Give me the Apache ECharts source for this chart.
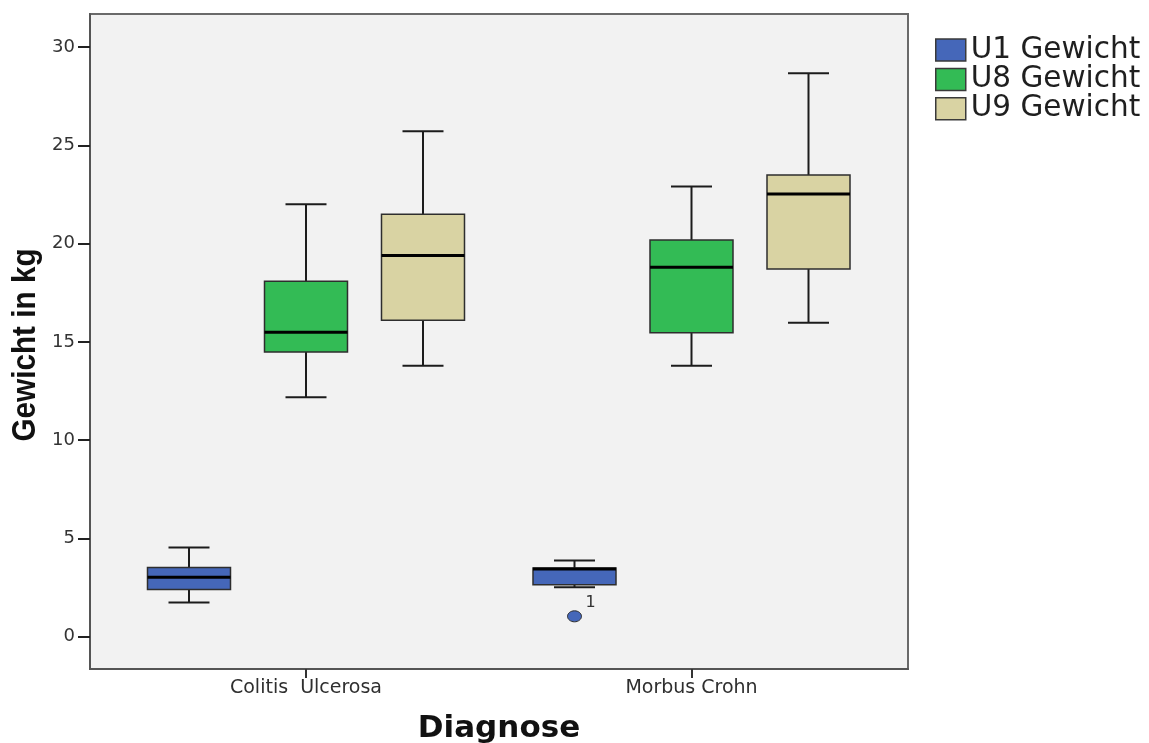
<!DOCTYPE html>
<html>
<head>
<meta charset="utf-8">
<script src="https://cdn.jsdelivr.net/npm/echarts@6/dist/echarts.min.js"></script>
<style>
  html, body { margin: 0; padding: 0; background: #ffffff; }
  #chart { width: 1149px; height: 743px; }
</style>
</head>
<body>
<div id="chart"></div>
<script>
// Diagnosis groups on the x axis
const categories = ['Colitis  Ulcerosa', 'Morbus Crohn'];
const seriesNames = ['U1 Gewicht', 'U8 Gewicht', 'U9 Gewicht'];
const seriesColors = ['#4567b9', '#33bb55', '#d9d3a3'];

// Five-number summaries per diagnosis: [min, Q1, median, Q3, max] (kg)
const u1Gewicht = [[1.74, 2.40, 3.03, 3.52, 4.54], [2.52, 2.64, 3.45, 3.50, 3.88]];
const u8Gewicht = [[12.19, 14.49, 15.49, 18.08, 22.00], [13.79, 15.47, 18.80, 20.18, 22.90]];
const u9Gewicht = [[13.79, 16.10, 19.39, 21.49, 25.72], [15.98, 18.71, 22.52, 23.49, 28.67]];

// Outlier of U1 Gewicht in Morbus Crohn: category index, value, case number
const outlierCategory = [1];
const outlierValue = [1.04];
const outlierCase = ['1'];

const yTicks = [0, 5, 10, 15, 20, 25, 30];
const yTitle = 'Gewicht in kg';
const xTitle = 'Diagnose';

// Box geometry (pixels)
const GROUP_STEP = 117;   // distance between neighbouring boxes in a group
const BOX_HALF = 41.5;    // half box width
const CAP_HALF = 20.5;    // half whisker-cap width

const summaries = [u1Gewicht, u8Gewicht, u9Gewicht];

function boxRenderer(seriesIdx) {
  const offset = (seriesIdx - 1) * GROUP_STEP;
  const fill = seriesColors[seriesIdx];
  return function (params, api) {
    const cx = api.coord([api.value(0), 0])[0] + offset;
    const py = (d) => api.coord([0, api.value(d)])[1];
    const yMin = py(1), yQ1 = py(2), yMed = py(3), yQ3 = py(4), yMax = py(5);
    const whisker = { stroke: '#1c1c1c', lineWidth: 2 };
    return {
      type: 'group',
      children: [
        { type: 'line', shape: { x1: cx, y1: yMax, x2: cx, y2: yQ3 }, style: whisker },
        { type: 'line', shape: { x1: cx, y1: yQ1, x2: cx, y2: yMin }, style: whisker },
        { type: 'line', shape: { x1: cx - CAP_HALF, y1: yMax, x2: cx + CAP_HALF, y2: yMax }, style: whisker },
        { type: 'line', shape: { x1: cx - CAP_HALF, y1: yMin, x2: cx + CAP_HALF, y2: yMin }, style: whisker },
        { type: 'rect', shape: { x: cx - BOX_HALF, y: yQ3, width: BOX_HALF * 2, height: yQ1 - yQ3 },
          style: { fill: fill, stroke: '#2e2e2e', lineWidth: 1.5 } },
        { type: 'line', shape: { x1: cx - BOX_HALF, y1: yMed, x2: cx + BOX_HALF, y2: yMed },
          style: { stroke: '#000000', lineWidth: 3 } }
      ]
    };
  };
}

const boxSeries = summaries.map((rows, i) => ({
  name: seriesNames[i],
  type: 'custom',
  renderItem: boxRenderer(i),
  itemStyle: { color: seriesColors[i] },
  encode: { x: 0, y: [1, 2, 3, 4, 5] },
  data: rows.map((r, c) => [c].concat(r)),
  silent: true,
  z: 3
}));

const outlierSeries = {
  type: 'custom',
  renderItem: function (params, api) {
    const p = api.coord([api.value(0), api.value(1)]);
    const cx = p[0] - GROUP_STEP;
    const cy = p[1];
    return {
      type: 'group',
      children: [
        { type: 'ellipse', shape: { cx: cx, cy: cy, rx: 7, ry: 5.5 },
          style: { fill: seriesColors[0], stroke: '#2e2e2e', lineWidth: 1 } },
        { type: 'text', style: { text: outlierCase[params.dataIndex], x: cx + 11, y: cy - 5,
          fontFamily: 'DejaVu Sans', fontSize: 16, fill: '#333333', verticalAlign: 'bottom' } }
      ]
    };
  },
  encode: { x: 0, y: 1 },
  data: outlierCategory.map((c, i) => [c, outlierValue[i]]),
  silent: true,
  z: 4
};

const chart = echarts.init(document.getElementById('chart'), null, { renderer: 'canvas' });
chart.setOption({
  animation: false,
  backgroundColor: '#ffffff',
  grid: {
    left: 90, top: 14, right: 241, bottom: 74,
    outerBoundsMode: 'none',
    containLabel: false,
    show: true, backgroundColor: '#f2f2f2', borderColor: '#6a6a6a', borderWidth: 2
  },
  legend: {
    orient: 'vertical',
    left: 935, top: 35,
    padding: 0,
    itemWidth: 30, itemHeight: 22, itemGap: -0.6,
    icon: 'rect',
    selectedMode: false,
    data: seriesNames.map((n) => ({ name: n, itemStyle: { borderColor: '#3a3a3a', borderWidth: 1.5 } })),
    textStyle: { fontFamily: 'DejaVu Sans', fontSize: 29.5, color: '#1f1f1f' }
  },
  // rotated y-axis title, set in a narrow bold face
  graphic: [{
    type: 'text',
    x: 26, y: 345,
    rotation: Math.PI / 2,
    scaleX: 0.9,
    style: {
      text: yTitle,
      fontFamily: 'Liberation Sans', fontWeight: 'bold', fontSize: 33,
      fill: '#111111', align: 'center', verticalAlign: 'middle'
    }
  }],
  xAxis: {
    type: 'value',
    min: -0.5603, max: 1.5616,
    splitLine: { show: false },
    axisLine: { show: true, onZero: false, lineStyle: { color: '#555555', width: 2 } },
    axisTick: { show: true, customValues: [0, 1], length: 9, lineStyle: { color: '#333333', width: 2 } },
    axisLabel: {
      customValues: [0, 1],
      formatter: (v) => categories[Math.round(v)],
      margin: 10,
      fontFamily: 'DejaVu Sans', fontSize: 19, color: '#2f2f2f'
    },
    name: xTitle,
    nameLocation: 'middle',
    nameGap: 44,
    nameTextStyle: { fontFamily: 'DejaVu Sans', fontWeight: 'bold', fontSize: 31, color: '#111111' }
  },
  yAxis: {
    type: 'value',
    min: -1.64, max: 31.68,
    splitLine: { show: false },
    axisLine: { show: true, onZero: false, lineStyle: { color: '#555555', width: 2 } },
    axisTick: { show: true, customValues: yTicks, length: 12, lineStyle: { color: '#222222', width: 2 } },
    axisLabel: {
      customValues: yTicks,
      margin: 15,
      fontFamily: 'DejaVu Sans', fontSize: 18, color: '#333333'
    }
  },
  series: boxSeries.concat([outlierSeries])
});
</script>
</body>
</html>
